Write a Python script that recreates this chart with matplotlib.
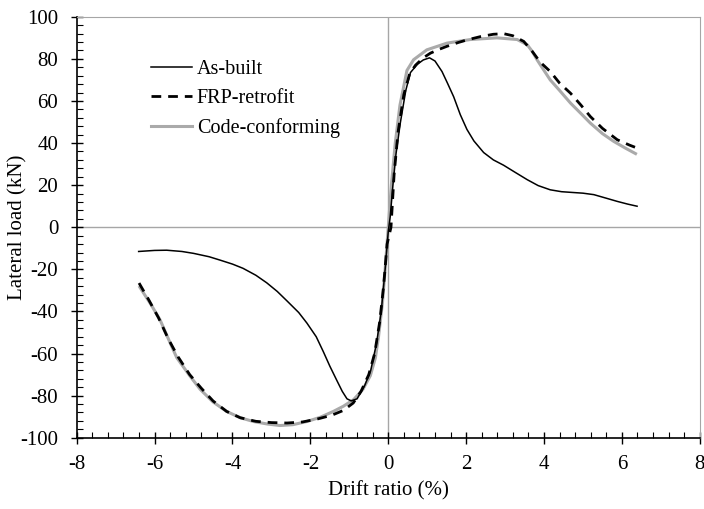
import matplotlib.pyplot as plt
from matplotlib.ticker import MultipleLocator

plt.rcParams['font.family'] = ['Liberation Serif', 'DejaVu Serif']
plt.rcParams['axes.unicode_minus'] = False

# drift ratio (%) and lateral load (kN) for each frame
as_built_x = [-6.41, -6.0, -5.69, -5.3, -5.0, -4.6, -4.32, -4.0, -3.73, -3.4, -3.12,
              -2.85, -2.6, -2.3, -2.09, -1.85, -1.67, -1.5, -1.32, -1.18, -1.06, -0.95,
              -0.8, -0.6, -0.45, -0.3, -0.18, -0.08, 0.0, 0.05, 0.12, 0.2, 0.31, 0.45,
              0.57, 0.75, 0.9, 1.06, 1.2, 1.38, 1.52, 1.68, 1.85, 2.02, 2.2, 2.45, 2.7,
              2.96, 3.25, 3.57, 3.85, 4.16, 4.45, 4.76, 5.0, 5.28, 5.6, 5.88, 6.15, 6.39]
as_built_y = [-11.5, -11.0, -10.9, -11.5, -12.4, -14.0, -15.6, -17.5, -19.5, -22.8, -26.4,
              -30.5, -35.0, -40.5, -45.5, -52.0, -59.0, -66.0, -72.8, -78.0, -81.5, -82.5,
              -81.5, -75.0, -68.0, -55.0, -40.0, -20.0, -2.0, 5.0, 20.0, 35.0, 49.6, 65.0,
              73.5, 77.5, 79.5, 80.5, 79.0, 74.0, 68.5, 62.0, 53.5, 46.5, 41.0, 35.5, 32.0,
              29.5, 26.2, 22.6, 19.8, 17.8, 16.9, 16.5, 16.2, 15.5, 13.8, 12.3, 11.0, 10.0]

frp_x = [-6.4, -6.15, -5.9, -5.65, -5.4, -5.1, -4.8, -4.5, -4.15, -3.8, -3.4, -3.0,
         -2.6, -2.2, -1.8, -1.45, -1.15, -0.9, -0.7, -0.5, -0.35, -0.22, -0.12, -0.03,
         0.07, 0.15, 0.25, 0.4, 0.55, 0.7, 0.9, 1.08, 1.3, 1.51, 1.8, 2.02, 2.37, 2.7,
         2.96, 3.2, 3.48, 3.7, 3.9, 4.16, 4.4, 4.68, 4.95, 5.19, 5.5, 5.88, 6.2, 6.48]
frp_y = [-26.5, -34.5, -43.0, -53.0, -61.5, -70.0, -76.5, -82.5, -87.5, -90.5, -92.2, -92.8,
         -93.0, -92.5, -91.0, -89.3, -87.0, -83.5, -78.0, -70.0, -60.0, -45.0, -28.0, -8.0,
         0.0, 25.0, 45.0, 63.0, 73.0, 77.0, 80.5, 82.7, 84.5, 86.0, 87.8, 89.0, 90.6, 91.7,
         92.0, 91.0, 88.3, 83.5, 78.5, 74.0, 68.5, 63.7, 58.0, 52.6, 47.0, 41.6, 39.0, 37.0]

code_x = [-6.38, -6.1, -5.86, -5.6, -5.43, -5.1, -4.83, -4.5, -4.15, -3.8, -3.46, -3.1,
          -2.78, -2.45, -2.09, -1.75, -1.41, -1.15, -0.89, -0.65, -0.46, -0.33, -0.25,
          -0.15, -0.08, 0.0, 0.08, 0.18, 0.3, 0.48, 0.65, 0.99, 1.51, 2.11, 2.79, 3.31,
          3.57, 3.7, 3.82, 4.0, 4.16, 4.4, 4.68, 4.95, 5.19, 5.5, 5.79, 6.1, 6.35]
code_y = [-28.5, -36.5, -44.0, -55.0, -62.0, -70.5, -77.0, -83.0, -87.5, -90.5, -92.3, -93.5,
          -94.2, -93.8, -92.3, -90.3, -87.5, -85.0, -81.9, -77.0, -70.5, -62.0, -52.0,
          -36.0, -20.0, 0.0, 20.0, 40.0, 58.0, 74.5, 79.6, 84.3, 87.5, 89.2, 90.0, 89.2,
          86.7, 83.5, 79.6, 74.5, 70.0, 65.0, 59.0, 54.0, 49.5, 44.5, 40.8, 37.5, 35.0]

fig = plt.figure(figsize=(7.04, 5.09), dpi=100)
ax = fig.add_axes([0.109, 0.14, 0.885, 0.827])

ax.axhline(0, color="#a6a6a6", lw=1.0, zorder=1)
ax.axvline(0, color="#a6a6a6", lw=1.0, zorder=1)

l3, = ax.plot(code_x, code_y, color="#aaaaaa", lw=2.2, label="Code-conforming", zorder=2)
l2, = ax.plot(frp_x, frp_y, color="black", lw=2.0, ls=(0, (3.5, 2.5)), label="FRP-retrofit", zorder=3)
l1, = ax.plot(as_built_x, as_built_y, color="black", lw=1.1, label="As-built", zorder=4)

ax.set_xlim(-8, 8)
ax.set_ylim(-100, 100)
ax.xaxis.set_major_locator(MultipleLocator(2))
ax.xaxis.set_minor_locator(MultipleLocator(0.4))
ax.yaxis.set_major_locator(MultipleLocator(20))
ax.yaxis.set_minor_locator(MultipleLocator(4))
ax.tick_params(which="major", direction="inout", length=8.6, width=1.0, labelsize=15)
ax.tick_params(axis="x", which="major", pad=8)
ax.tick_params(axis="y", which="major", pad=9)
ax.tick_params(which="minor", direction="in", length=4, width=0.8)
ax.tick_params(top=False, right=False, which="both")

for side in ["top", "right"]:
    ax.spines[side].set_color("#a6a6a6")
for side in ["left", "bottom"]:
    ax.spines[side].set_color("black")
    ax.spines[side].set_linewidth(1.2)

ax.set_xlabel("Drift ratio (%)", fontsize=15, labelpad=5)
ax.set_ylabel("Lateral load (kN)", fontsize=15)
# y label sits just left of the short tick labels, overlapping the -100 column
ax.yaxis.set_label_coords(-0.079, 0.5)

ax.legend(handles=[l1, l2, l3], loc="upper left", bbox_to_anchor=(0.107, 0.917),
          frameon=False, fontsize=14.5, handlelength=2.0, handletextpad=0.25,
          labelspacing=0.5, borderaxespad=0)

fig.savefig("out.png", dpi=100)
